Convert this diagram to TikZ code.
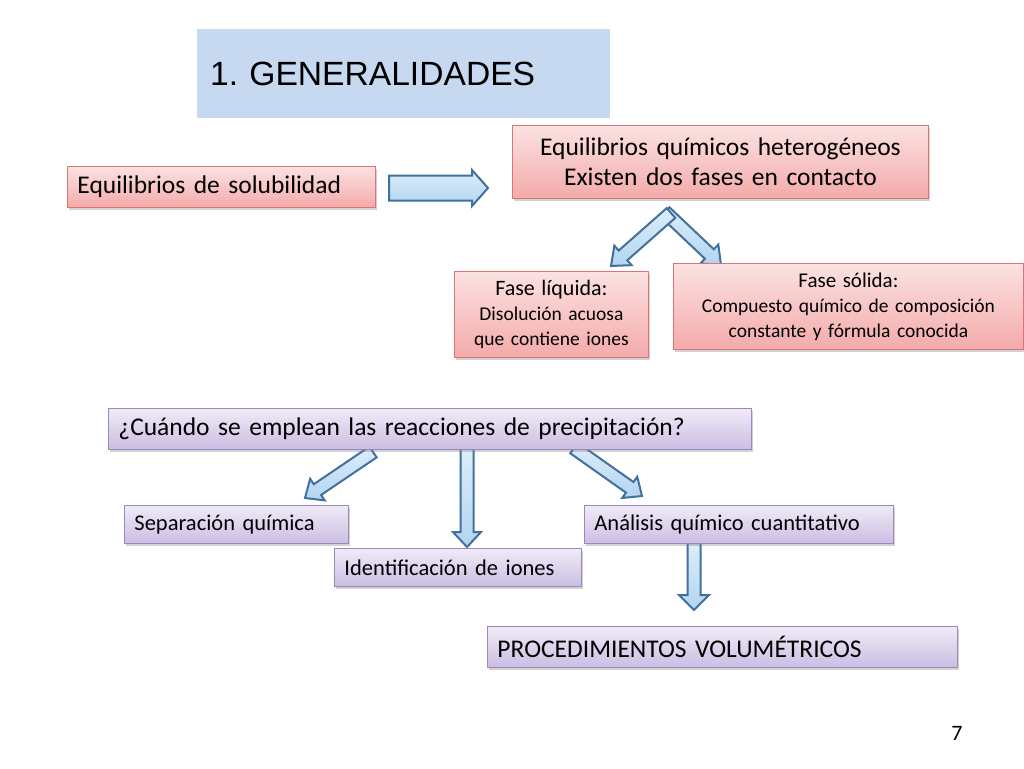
\documentclass[tikz,border=0pt]{standalone}
\usepackage{fontspec}
\setmainfont{Carlito}
\newfontfamily\arialf{Liberation Sans}
\usetikzlibrary{calc,shadows}
\definecolor{titlefill}{HTML}{C6D9F1}
\definecolor{redtop}{HTML}{FBE2E2}
\definecolor{redbot}{HTML}{F4AAAA}
\definecolor{redline}{HTML}{DC7474}
\definecolor{purtop}{HTML}{F0EBF7}
\definecolor{purbot}{HTML}{CBBDE2}
\definecolor{purline}{HTML}{9B88BF}
\definecolor{arrtop}{HTML}{DCEEFB}
\definecolor{arrbot}{HTML}{B3D4F0}
\definecolor{arrline}{HTML}{41719C}
\tikzset{
  boxbase/.style={anchor=north west, inner xsep=10pt, inner ysep=0pt,
    drop shadow={shadow xshift=2pt, shadow yshift=-2.5pt, opacity=0.35}},
  redbox/.style={boxbase, draw=redline, line width=0.9pt, top color=redtop, bottom color=redbot},
  purbox/.style={boxbase, draw=purline, line width=0.9pt, top color=purtop, bottom color=purbot},
  blockarr/.style={draw=arrline, line width=2pt, line join=miter, top color=arrtop, bottom color=arrbot},
  fbig/.style={font=\fontsize{25.5}{30}\selectfont},
  fmid/.style={font=\fontsize{22.5}{26}\selectfont},
}
\newcommand\blockarrow[5]{%
  \coordinate (tmpH) at ($(#2)!#5!(#1)$);
  \path[blockarr] ($(#1)!#3!90:(#2)$) -- ($(tmpH)!#3!90:(#2)$) -- ($(tmpH)!#4!90:(#2)$) -- (#2)
    -- ($(tmpH)!#4!-90:(#2)$) -- ($(tmpH)!#3!-90:(#2)$) -- ($(#1)!#3!-90:(#2)$) -- cycle;}
\begin{document}
\frenchspacing
\begin{tikzpicture}[x=1pt,y=-1pt]
\fill[white] (0,0) rectangle (1024,768);
\useasboundingbox (0,0) rectangle (1024,768);

% title
\node[anchor=north west, fill=titlefill, minimum height=89pt, text width=387pt, inner xsep=13pt, align=left,
  font=\arialf\fontsize{33.6}{40}\selectfont] (title) at (197,29) {1. GENERALIDADES};

% arrows (free ends as coordinates)
\coordinate (h1) at (389,188); \coordinate (h2) at (488,188);
\blockarrow{h1}{h2}{12.5pt}{18pt}{16pt}
\coordinate (cr1) at (665,212); \coordinate (cr2) at (721,265);
\blockarrow{cr1}{cr2}{6.5pt}{13pt}{16pt}
\coordinate (cl1) at (671,213); \coordinate (cl2) at (611,266);
\blockarrow{cl1}{cl2}{6.5pt}{13pt}{16pt}
\coordinate (bl1) at (373,452); \coordinate (bl2) at (305,498);
\blockarrow{bl1}{bl2}{6.5pt}{13pt}{15pt}
\coordinate (bm1) at (467,446); \coordinate (bm2) at (467,547);
\blockarrow{bm1}{bm2}{6.5pt}{14pt}{15pt}
\coordinate (br1) at (574,448); \coordinate (br2) at (642,496);
\blockarrow{br1}{br2}{6.5pt}{13pt}{15pt}
\coordinate (bv1) at (694,543); \coordinate (bv2) at (694,610);
\blockarrow{bv1}{bv2}{6.5pt}{15pt}{15pt}

% red boxes
\node[redbox, fbig, minimum height=41pt, text width=288pt, align=left] (sol) at (67,166) {Equilibrios de solubilidad};
\node[redbox, fbig, minimum height=73pt, text width=396pt, align=center] (het) at (512,125)
  {Equilibrios químicos heterogéneos\\Existen dos fases en contacto};
\node[redbox, minimum height=86pt, text width=174pt, align=center, font=\fontsize{19.5}{25}\selectfont] (liq) at (454,271)
  {{\fontsize{22}{25}\selectfont Fase líquida:}\\Disolución acuosa\\que contiene iones};
\node[redbox, minimum height=86pt, text width=330pt, align=center, font=\fontsize{19.5}{25}\selectfont] (solid) at (673,263)
  {{\fontsize{21}{25}\selectfont Fase sólida:}\\Compuesto químico de composición\\constante y fórmula conocida};

% purple boxes
\node[purbox, fbig, minimum height=41pt, text width=623pt, align=left] (cuando) at (108,408)
  {¿Cuándo se emplean las reacciones de precipitación?};
\node[purbox, fmid, minimum height=38pt, text width=204pt, align=left] (sep) at (124,505) {Separación química};
\node[purbox, fmid, minimum height=38pt, text width=227pt, align=left] (ident) at (334,548) {Identificación de iones};
\node[purbox, fmid, minimum height=38pt, text width=289pt, align=left] (anal) at (584,505) {Análisis químico cuantitativo};
\node[purbox, fbig, minimum height=41pt, text width=450pt, align=left] (proc) at (487,626) {PROCEDIMIENTOS VOLUMÉTRICOS};

% page number
\node[font=\fontsize{22}{24}\selectfont, inner sep=0pt] (pnum) at (957,733) {7};
\end{tikzpicture}
\end{document}
